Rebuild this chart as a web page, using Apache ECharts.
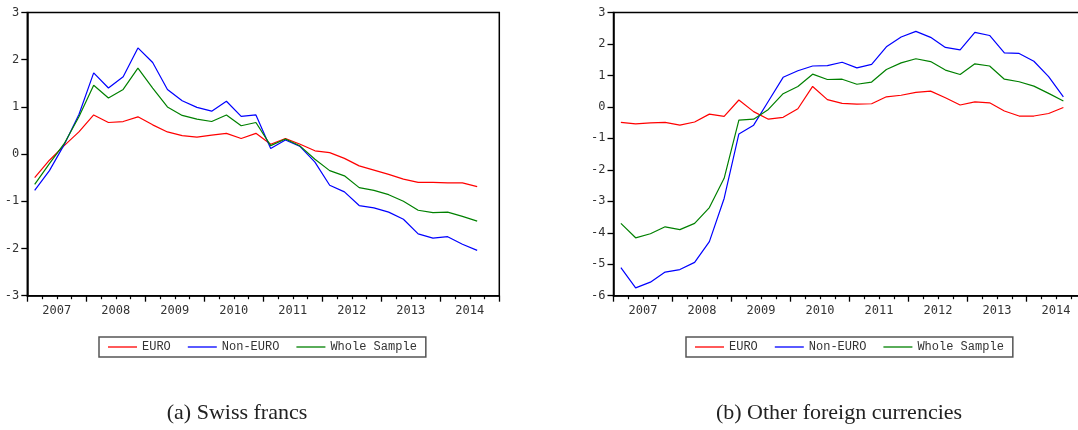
<!DOCTYPE html>
<html>
<head>
<meta charset="utf-8">
<script src="https://cdn.jsdelivr.net/npm/echarts@6/dist/echarts.min.js"></script>
<style>
html,body{margin:0;padding:0;background:#fff;}
#chart{width:1078px;height:430px;}
</style>
</head>
<body>
<div id="chart"></div>
<script>
// Quarterly observations 2007Q1 .. 2014Q3
const years = ['2007','2008','2009','2010','2011','2012','2013','2014'];
const seriesNames = ['EURO', 'Non-EURO', 'Whole Sample'];

// Panel (a): Swiss francs
const chfEuro = [-0.50,-0.13,0.18,0.47,0.83,0.67,0.69,0.79,0.62,0.47,0.39,0.36,0.40,0.44,0.33,0.44,0.21,0.33,0.21,0.07,0.03,-0.09,-0.25,-0.34,-0.43,-0.53,-0.60,-0.60,-0.61,-0.61,-0.69];
const chfNonEuro = [-0.77,-0.35,0.20,0.84,1.72,1.40,1.64,2.25,1.94,1.37,1.13,0.99,0.91,1.12,0.80,0.83,0.12,0.30,0.16,-0.17,-0.66,-0.80,-1.09,-1.14,-1.23,-1.38,-1.69,-1.78,-1.75,-1.91,-2.04];
const chfWhole = [-0.64,-0.20,0.22,0.79,1.46,1.19,1.37,1.82,1.40,1.00,0.82,0.74,0.69,0.83,0.60,0.67,0.18,0.32,0.17,-0.11,-0.35,-0.46,-0.71,-0.77,-0.86,-1.00,-1.19,-1.24,-1.23,-1.32,-1.42];

// Panel (b): Other foreign currencies
const othEuro = [-0.49,-0.54,-0.51,-0.49,-0.58,-0.48,-0.23,-0.30,0.22,-0.15,-0.39,-0.33,-0.06,0.65,0.23,0.11,0.09,0.10,0.32,0.37,0.46,0.50,0.29,0.06,0.16,0.13,-0.13,-0.29,-0.29,-0.21,-0.02];
const othNonEuro = [-5.11,-5.75,-5.57,-5.25,-5.17,-4.94,-4.28,-2.91,-0.86,-0.58,0.18,0.94,1.15,1.30,1.31,1.42,1.24,1.35,1.91,2.22,2.40,2.21,1.89,1.81,2.37,2.27,1.72,1.70,1.45,0.96,0.32];
const othWhole = [-3.70,-4.16,-4.03,-3.81,-3.90,-3.70,-3.20,-2.27,-0.42,-0.39,-0.08,0.42,0.65,1.04,0.87,0.88,0.72,0.79,1.19,1.40,1.53,1.44,1.17,1.03,1.37,1.30,0.88,0.80,0.66,0.43,0.19];

const captions = ['(a) Swiss francs', '(b) Other foreign currencies'];

const colors = ['#ff0000', '#0000ff', '#008000'];
const tickFont = 'DejaVu Sans Mono';
const toPairs = arr => arr.map((v, i) => [i + 0.5, v]);

function gridDef(left) {
  return {left: left, top: 12.5, width: 472, height: 283.2, show: true,
    borderColor: '#000', borderWidth: 1.5, backgroundColor: '#fff',
    containLabel: false, outerBoundsMode: 'none'};
}
function tickAxis(g) {
  return {type: 'value', gridIndex: g, min: 0, max: 32, interval: 4, position: 'bottom',
    axisLine: {show: true, onZero: false, lineStyle: {color: '#000', width: 1.5}},
    axisTick: {show: true, length: 6, lineStyle: {color: '#000', width: 1.3}},
    minorTick: {show: true, splitNumber: 4, length: 3.5, lineStyle: {color: '#000', width: 1.2}},
    axisLabel: {show: false}, splitLine: {show: false}, minorSplitLine: {show: false}};
}
function labelAxis(g) {
  return {type: 'value', gridIndex: g, min: 0, max: 32, interval: 2, position: 'bottom',
    axisLine: {show: false, onZero: false}, axisTick: {show: false},
    axisLabel: {show: true, margin: 9, color: '#333', fontFamily: tickFont, fontSize: 12,
      showMinLabel: true, showMaxLabel: true,
      formatter: v => (v % 4 === 2) ? years[(v - 2) / 4] : ''},
    splitLine: {show: false}};
}
function yAxisDef(g, min, max) {
  return {type: 'value', gridIndex: g, min: min, max: max, interval: 1,
    axisLine: {show: true, onZero: false, lineStyle: {color: '#000', width: 1.5}},
    axisTick: {show: true, length: 6, lineStyle: {color: '#000', width: 1.3}},
    axisLabel: {margin: 8, color: '#333', fontFamily: tickFont, fontSize: 12},
    splitLine: {show: false}};
}
function lineSeries(name, data, colorIdx, g) {
  return {type: 'line', name: name, xAxisIndex: g * 2, yAxisIndex: g, data: toPairs(data),
    symbol: 'none', showSymbol: false, smooth: false, animation: false,
    lineStyle: {color: colors[colorIdx], width: 1.2}, itemStyle: {color: colors[colorIdx]}};
}
function legendDef(left) {
  return {data: seriesNames, left: left, top: 337, orient: 'horizontal',
    icon: 'rect', itemWidth: 29, itemHeight: 1.3, itemGap: 17, padding: [3, 9],
    borderColor: '#555', borderWidth: 1.5, backgroundColor: '#fff',
    selectedMode: false,
    textStyle: {fontFamily: 'Liberation Mono', fontSize: 12, color: '#333', lineHeight: 14}};
}

const chart = echarts.init(document.getElementById('chart'), null, {renderer: 'canvas'});
chart.setOption({
  animation: false,
  backgroundColor: '#fff',
  grid: [gridDef(27.3), gridDef(613.5)],
  xAxis: [tickAxis(0), labelAxis(0), tickAxis(1), labelAxis(1)],
  yAxis: [yAxisDef(0, -3, 3), yAxisDef(1, -6, 3)],
  legend: [legendDef(99), legendDef(686)],
  series: [
    lineSeries(seriesNames[0], chfEuro, 0, 0),
    lineSeries(seriesNames[1], chfNonEuro, 1, 0),
    lineSeries(seriesNames[2], chfWhole, 2, 0),
    Object.assign(lineSeries(seriesNames[0], othEuro, 0, 1), {xAxisIndex: 2}),
    Object.assign(lineSeries(seriesNames[1], othNonEuro, 1, 1), {xAxisIndex: 2}),
    Object.assign(lineSeries(seriesNames[2], othWhole, 2, 1), {xAxisIndex: 2})
  ],
  graphic: [
    {type: 'text', x: 237, y: 413, style: {text: captions[0], align: 'center', verticalAlign: 'middle',
      font: '22px "Liberation Serif", serif', fill: '#222'}},
    {type: 'text', x: 839, y: 413, style: {text: captions[1], align: 'center', verticalAlign: 'middle',
      font: '22px "Liberation Serif", serif', fill: '#222'}}
  ]
});
</script>
</body>
</html>
